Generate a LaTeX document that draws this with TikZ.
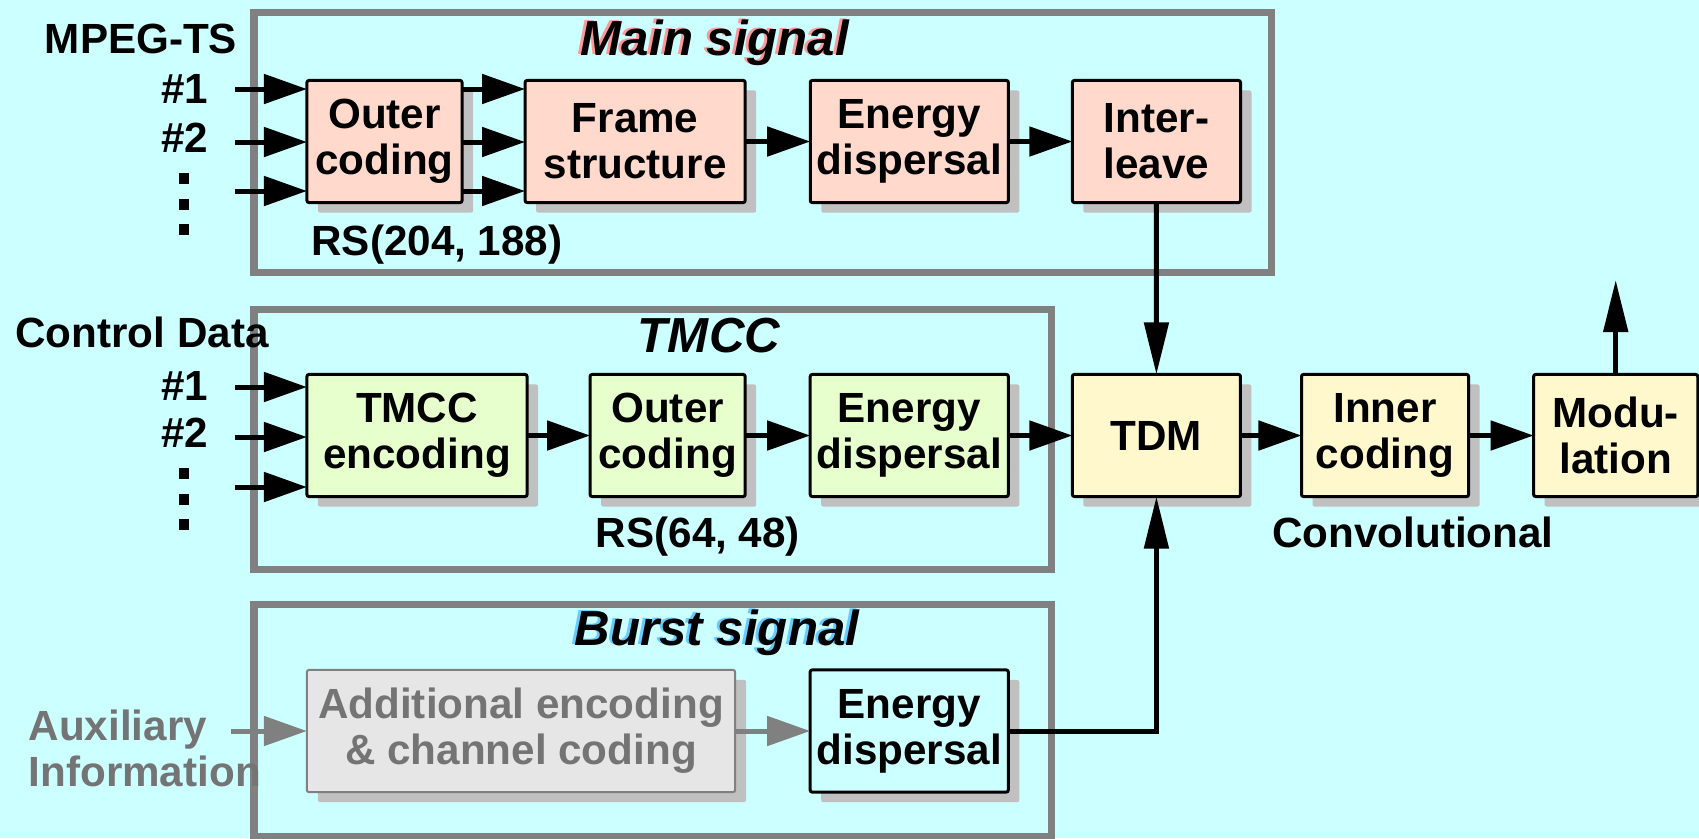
\documentclass[tikz,border=0pt]{standalone}
\usepackage{fontspec}
\setmainfont{Liberation Sans}
\usepackage{xcolor}
\usetikzlibrary{arrows.meta,positioning,shadows}

\definecolor{bgcyan}{HTML}{CCFFFF}
\definecolor{mainfill}{HTML}{FFD9CC}
\definecolor{tmccfill}{HTML}{E6FFCC}
\definecolor{muxfill}{HTML}{FFF8CC}
\definecolor{auxfill}{HTML}{E6E6E6}
\definecolor{shadegray}{HTML}{C0C0C0}
\definecolor{framegray}{HTML}{808080}
\definecolor{auxgray}{HTML}{747474}
\definecolor{redshd}{HTML}{FF9999}
\definecolor{blueshd}{HTML}{66CCFF}

\begin{document}
\begin{tikzpicture}[
    x=0.01cm, y=-0.01cm,
    font=\fontsize{12}{13}\selectfont\bfseries,
    block/.style={draw, line width=0.03cm, rounded corners=0.02cm, minimum height=1.22cm, inner sep=0pt, outer sep=0pt, align=center,
        drop shadow={shadow xshift=0.11cm, shadow yshift=-0.10cm, opacity=1, fill=shadegray}},
    mainblk/.style={block, fill=mainfill},
    tmccblk/.style={block, fill=tmccfill},
    muxblk/.style={block, fill=muxfill},
    auxblk/.style={block, draw=framegray, line width=0.02cm, fill=auxfill, text=auxgray},
    burstblk/.style={block, fill=bgcyan},
    grpframe/.style={draw=framegray, line width=0.07cm},
    lbl/.style={inner sep=0pt},
    ttl/.style={inner sep=0pt, font=\fontsize{14}{16}\selectfont\bfseries\itshape},
    dot/.style={fill=black, inner sep=0pt, minimum width=0.09cm, minimum height=0.11cm},
    arrow/.style={-{Triangle[length=0.43cm,width=0.29cm]}, line width=0.05cm},
    varrow/.style={-{Triangle[length=0.52cm,width=0.24cm]}, line width=0.05cm},
    grayarrow/.style={arrow, draw=framegray},
]

% Background and group frames
\path[fill=bgcyan, use as bounding box] (0,0) rectangle (1699,838);
\draw[grpframe] (254,12) rectangle (1271,272);
\draw[grpframe] (254,309) rectangle (1051,569);
\draw[grpframe] (254,604) rectangle (1051,836);

% Titles (with coloured shadow copies)
\node[ttl, text=redshd, anchor=base] (mainshd) at (712,54) {Main signal};
\node[ttl, anchor=base] (mainttl) at (715,55) {Main signal};
\node[ttl, anchor=base] (tmccttl) at (709,352) {TMCC};
\node[ttl, text=blueshd, anchor=base] (burstshd) at (714,644) {Burst signal};
\node[ttl, anchor=base] (burstttl) at (717,645) {Burst signal};

% Row 1: Main signal
\node[mainblk, minimum width=1.55cm] (outerA) at (384.5,141.5) {Outer\\coding};
\node[mainblk, minimum width=2.20cm, right=0.63cm of outerA] (frmstr) {Frame\\structure};
\node[mainblk, minimum width=1.98cm, right=0.65cm of frmstr] (energyA) {Energy\\dispersal};
\node[mainblk, minimum width=1.68cm, right=0.64cm of energyA] (inter) {Inter-\\leave};

\node[lbl, anchor=base] (mpeg) at (141,53) {MPEG-TS};
\node[lbl, anchor=base] (tsA) at (185,103) {\#1};
\node[lbl, anchor=base] (tsB) at (185,152) {\#2};
\foreach \y in {178,204,229} \node[dot] (tsdot\y) at (184,\y) {};
\node[lbl, anchor=base] (rsA) at (437,255) {RS(204, 188)};

% Row 2: TMCC and multiplexing chain
\node[tmccblk, minimum width=2.20cm] (tmccenc) at (417,435.5) {TMCC\\encoding};
\node[tmccblk, minimum width=1.55cm, right=0.63cm of tmccenc] (outerB) {Outer\\coding};
\node[tmccblk, minimum width=1.98cm, right=0.65cm of outerB] (energyB) {Energy\\dispersal};
\node[muxblk, minimum width=1.68cm, right=0.64cm of energyB] (tdm) {TDM};
\node[muxblk, minimum width=1.67cm, right=0.61cm of tdm] (inner) {Inner\\coding};
\node[muxblk, minimum width=1.64cm, right=0.65cm of inner] (modul) {Modu-\\lation};

\node[lbl, anchor=base] (ctrl) at (142,347) {Control Data};
\node[lbl, anchor=base] (cdA) at (185,400) {\#1};
\node[lbl, anchor=base] (cdB) at (185,447) {\#2};
\foreach \y in {473,499,524} \node[dot] (cddot\y) at (184,\y) {};
\node[lbl, anchor=base] (rsB) at (698,547) {RS(64, 48)};
\node[lbl, anchor=base] (conv) at (1413,547) {Convolutional};

% Row 3: Burst signal
\node[auxblk, minimum width=4.28cm] (addenc) at (521,731) {Additional encoding\\\& channel coding};
\node[burstblk, minimum width=1.98cm, right=0.75cm of addenc] (energyC) {Energy\\dispersal};
\node[lbl, text=auxgray, anchor=north west, align=left] (auxinfo) at (28,709) {Auxiliary\\Information};

% Free ends
\coordinate (inA1) at (235,89);
\coordinate (inA2) at (235,142);
\coordinate (inA3) at (235,191);
\coordinate (inB1) at (235,387);
\coordinate (inB2) at (235,437);
\coordinate (inB3) at (235,487);
\coordinate (inC) at (231,731);
\coordinate (txout) at (modul.north |- 0,280);

% Main signal arrows
\foreach \c in {inA1,inA2,inA3} \draw[arrow] (\c) -- (\c -| outerA.west);
\foreach \c in {inA1,inA2,inA3} \draw[arrow] (outerA.east |- \c) -- (frmstr.west |- \c);
\draw[arrow] (frmstr.east) -- (energyA.west);
\draw[arrow] (energyA.east) -- (inter.west);
\draw[varrow] (inter.south) -- (tdm.north);

% TMCC arrows
\foreach \c in {inB1,inB2,inB3} \draw[arrow] (\c) -- (\c -| tmccenc.west);
\draw[arrow] (tmccenc.east) -- (outerB.west);
\draw[arrow] (outerB.east) -- (energyB.west);
\draw[arrow] (energyB.east) -- (tdm.west);
\draw[arrow] (tdm.east) -- (inner.west);
\draw[arrow] (inner.east) -- (modul.west);
\draw[varrow] (modul.north) -- (txout);

% Burst arrows
\draw[grayarrow] (inC) -- (addenc.west);
\draw[grayarrow] (addenc.east) -- (energyC.west);
\draw[varrow] (energyC.east) -| (tdm.south);

\end{tikzpicture}
\end{document}
